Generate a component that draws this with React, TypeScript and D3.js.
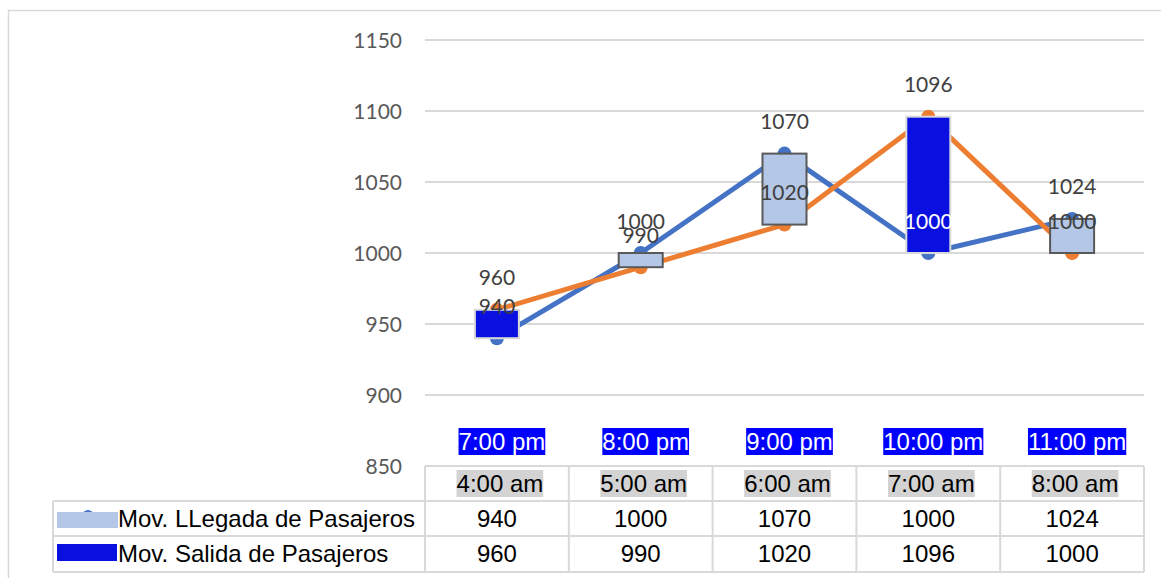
import React, { useEffect, useRef } from "react";
import * as d3 from "d3";

const categories = ["4:00 am", "5:00 am", "6:00 am", "7:00 am", "8:00 am"];
const topLabels = ["7:00 pm", "8:00 pm", "9:00 pm", "10:00 pm", "11:00 pm"];
const llegada = [940, 1000, 1070, 1000, 1024];
const salida = [960, 990, 1020, 1096, 1000];
const seriesNames = ["Mov. LLegada de Pasajeros", "Mov. Salida de Pasajeros"];
const yTicks = [850, 900, 950, 1000, 1050, 1100, 1150];

const BLUE = "#4472C4";
const ORANGE = "#ED7D31";
const UP = "#0A10E0";
const DOWN = "#B4C7E7";
const GRID = "#D9D9D9";
const ARIAL = "'Liberation Sans', Arial, sans-serif";
const CAL = "Lato, 'Open Sans', sans-serif";

export default function App() {
  const ref = useRef<SVGSVGElement>(null);

  useEffect(() => {
    const svg = d3.select(ref.current as SVGSVGElement);
    svg.selectAll("*").remove();

    const x = d3.scaleBand<string>().domain(categories).range([425, 1144]).padding(0);
    const y = d3.scaleLinear().domain([850, 1150]).range([466, 40]);
    const cx = (i: number) => (x(categories[i]) as number) + x.bandwidth() / 2;

    // outer chart border
    svg.append("rect").attr("x", 8.5).attr("y", 10.5).attr("width", 1170).attr("height", 580)
      .attr("fill", "white").attr("stroke", GRID).attr("stroke-width", 1.5);

    // gridlines
    svg.append("g").selectAll("line").data(yTicks.filter(t => t > 850)).join("line")
      .attr("x1", 425).attr("x2", 1144)
      .attr("y1", d => y(d)).attr("y2", d => y(d))
      .attr("stroke", GRID).attr("stroke-width", 2);

    // y tick labels
    svg.append("g").selectAll("text").data(yTicks).join("text")
      .attr("x", 402).attr("y", d => y(d)).attr("dy", "0.36em")
      .attr("text-anchor", "end").attr("font-family", CAL).attr("font-size", 21)
      .attr("fill", "#595959").text(d => d);

    // lines + markers
    const line = d3.line<number>().x((_, i) => cx(i)).y(d => y(d));
    const drawSeries = (vals: number[], color: string) => {
      svg.append("path").attr("d", line(vals) as string).attr("fill", "none")
        .attr("stroke", color).attr("stroke-width", 5).attr("stroke-linejoin", "round");
      svg.append("g").selectAll("circle").data(vals).join("circle")
        .attr("cx", (_, i) => cx(i)).attr("cy", d => y(d)).attr("r", 7).attr("fill", color);
    };
    drawSeries(llegada, BLUE);
    drawSeries(salida, ORANGE);

    // up-down bars
    const barW = 44;
    categories.forEach((c, i) => {
      const o = llegada[i], cl = salida[i];
      const up = cl > o;
      const top = y(Math.max(o, cl)), bot = y(Math.min(o, cl));
      svg.append("rect").attr("x", cx(i) - barW / 2).attr("y", top)
        .attr("width", barW).attr("height", bot - top)
        .attr("fill", up ? UP : DOWN)
        .attr("stroke", up ? GRID : "#595959").attr("stroke-width", 2);
    });

    // data labels (above each point)
    const labelFor = (vals: number[], other: number[]) => {
      vals.forEach((v, i) => {
        const o = other[i];
        const center = y(v) - 32;
        const upBar = salida[i] > llegada[i];
        const inside = upBar && center > y(Math.max(v, o)) && center < y(Math.min(v, o));
        svg.append("text").attr("x", cx(i)).attr("y", center).attr("dy", "0.36em")
          .attr("text-anchor", "middle").attr("font-family", CAL).attr("font-size", 21)
          .attr("fill", inside ? "#FFFFFF" : "#404040").text(v);
      });
    };
    labelFor(llegada, salida);
    labelFor(salida, llegada);

    // highlighted text helper
    const hlText = (tx: number, baseline: number, str: string, bg: string, fg: string) => {
      const g = svg.append("g");
      const r = g.append("rect");
      const t = g.append("text").attr("x", tx).attr("y", baseline).attr("text-anchor", "middle")
        .attr("font-family", ARIAL).attr("font-size", 24).attr("fill", fg).text(str);
      const bb = (t.node() as SVGTextElement).getBBox();
      r.attr("x", bb.x).attr("y", bb.y).attr("width", bb.width).attr("height", bb.height).attr("fill", bg);
    };

    // top (pm) labels
    topLabels.forEach((s, i) => hlText(cx(i) + 5, 450, s, "#0000FF", "#FFFFFF"));

    // data table
    const tg = svg.append("g").attr("stroke", GRID).attr("stroke-width", 2);
    const rows = [466, 501, 536, 572];
    tg.append("line").attr("x1", 425).attr("x2", 1144).attr("y1", rows[0]).attr("y2", rows[0]);
    rows.slice(1).forEach(r => tg.append("line").attr("x1", 53).attr("x2", 1144).attr("y1", r).attr("y2", r));
    tg.append("line").attr("x1", 53).attr("x2", 53).attr("y1", rows[1]).attr("y2", rows[3]);
    const colEdges = categories.map(c => x(c) as number).concat([1144]);
    colEdges.forEach(cx0 => tg.append("line").attr("x1", cx0).attr("x2", cx0).attr("y1", rows[0]).attr("y2", rows[3]));

    // header (am) labels
    categories.forEach((s, i) => hlText(cx(i) + 3, 492, s, "#D3D3D3", "#000000"));

    // values
    [llegada, salida].forEach((vals, r) => {
      svg.append("g").selectAll("text").data(vals).join("text")
        .attr("x", (_, i) => cx(i)).attr("y", r === 0 ? 526.5 : 562)
        .attr("text-anchor", "middle").attr("font-family", ARIAL).attr("font-size", 24)
        .attr("fill", "#000").text(d => d);
    });

    // legend keys
    svg.append("circle").attr("cx", 88).attr("cy", 516).attr("r", 6).attr("fill", BLUE);
    svg.append("rect").attr("x", 57).attr("y", 512).attr("width", 61).attr("height", 16).attr("fill", DOWN);
    svg.append("rect").attr("x", 57).attr("y", 544).attr("width", 60).attr("height", 17).attr("fill", UP);
    seriesNames.forEach((n, r) => {
      svg.append("text").attr("x", 118).attr("y", r === 0 ? 526.5 : 562)
        .attr("font-family", ARIAL).attr("font-size", 24).attr("fill", "#000").text(n);
    });
  }, []);

  return (
    <div style={{ position: "absolute", left: 0, top: 0 }}>
      <svg ref={ref} width={1161} height={578} style={{ display: "block" }} />
    </div>
  );
}
